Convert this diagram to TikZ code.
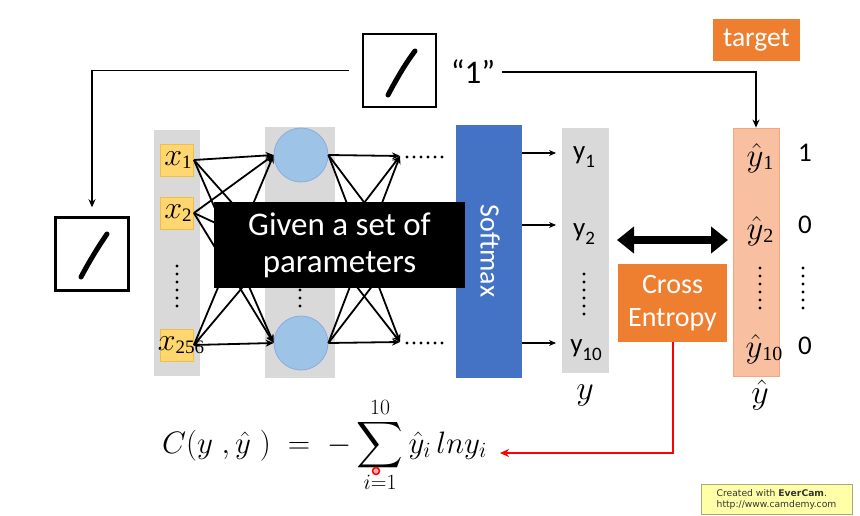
\RequirePackage{fix-cm}
\documentclass[tikz,border=0pt]{standalone}
\usepackage{amsmath}
\usepackage{graphicx}
\usepackage{fontspec}
\setmainfont{Carlito}
\newfontfamily\wmfont{DejaVu Sans}
\newfontfamily\tnr{Liberation Serif}
\usetikzlibrary{arrows.meta}
\definecolor{colgray}{HTML}{D9D9D9}
\definecolor{xfill}{HTML}{FFD670}
\definecolor{xline}{HTML}{F2BE4A}
\definecolor{hfill}{HTML}{9DC3E6}
\definecolor{hline}{HTML}{8FAADC}
\definecolor{smblue}{HTML}{4472C4}
\definecolor{orng}{HTML}{EE7E30}
\definecolor{yhfill}{HTML}{F8BFA0}
\definecolor{yhline}{HTML}{F4A77D}
\definecolor{wmfill}{HTML}{FFFFA8}
\definecolor{wmline}{HTML}{A8A878}
\newcommand{\xlab}[1]{{\fontsize{32}{32}\selectfont$x$}{\tnr\raisebox{-0.3em}{\fontsize{19}{19}\selectfont #1}}}
\newcommand{\yhlab}[1]{{\fontsize{33}{33}\selectfont$\hat{y}$}{\tnr\raisebox{-0.3em}{\fontsize{20}{20}\selectfont #1}}}
\tikzset{
  colbox/.style={fill=colgray,draw=none,inner sep=0pt},
  xbox/.style={fill=xfill,draw=xline,line width=0.8pt,minimum width=33,minimum height=32,inner sep=0pt},
  hcirc/.style={circle,fill=hfill,draw=hline,line width=0.8pt,minimum size=54,inner sep=0pt},
  conn/.style={line width=1.8pt,-{Stealth[length=8pt,width=7pt]}},
  sarrow/.style={line width=1.2pt,-{Stealth[length=7pt,width=6pt]}},
  imgbox/.style={draw=black,line width=2.5pt,fill=white,inner sep=0pt},
  lab/.style={font=\fontsize{27}{28}\selectfont,inner sep=0pt},
  wlab/.style={text=white,font=\fontsize{28}{33}\selectfont,align=center},
}
\begin{document}
\begin{tikzpicture}[x=1pt,y=-1pt]
\useasboundingbox (0,0) rectangle (860,516);
\fill[white] (0,0) rectangle (860,516);

% image boxes
\node[imgbox,minimum width=73,minimum height=73] (topbox) at (399.5,70.5) {};
\draw[line width=5pt,line cap=round] (388,95) .. controls (396,80) and (405,64) .. (415,51);
\node[imgbox,minimum width=73,minimum height=73] (leftbox) at (92,254) {};
\draw[line width=5pt,line cap=round] (81,277) .. controls (89,262) and (98,247) .. (107,234);
\node[font=\fontsize{33}{34}\selectfont,inner sep=3pt] (q1) at (473,72) {“1”};

% target
\node[fill=orng,minimum width=87,minimum height=42,inner sep=0pt,text=white,font=\fontsize{27.5}{28}\selectfont] (target) at (756.5,40) {target};

% columns
\node[colbox,minimum width=46,minimum height=246] (incol) at (177,253) {};
\node[colbox,minimum width=70,minimum height=251] (hidcol) at (300,252.5) {};
\node[colbox,minimum width=47,minimum height=245] (ycol) at (585.5,250.5) {};
\node[fill=yhfill,draw=yhline,line width=0.8pt,minimum width=46,minimum height=248,inner sep=0pt] (yhcol) at (756,252) {};

% softmax
\node[fill=smblue,minimum width=66,minimum height=253,inner sep=0pt] (sm) at (489,251.5) {};
\node[rotate=-90,text=white,font=\fontsize{28}{30}\selectfont] (smtext) at (490,251) {Softmax};

% inputs
\node[xbox] (x1) at (177,160) {};
\node[xbox] (x2) at (177,213) {};
\node[xbox] (x256) at (177,345) {};
\node[inner sep=0pt] (x1t) at (178,160) {\xlab{1}};
\node[inner sep=0pt] (x2t) at (178,213) {\xlab{2}};
\node[inner sep=0pt] (x256t) at (181,345) {\xlab{256}};
\foreach \yy in {266,274,...,306} \fill (177,\yy) circle (1.6);

% hidden
\node[hcirc] (h1) at (301,155) {};
\node[hcirc] (h2) at (301,343) {};
\coordinate (hmw) at (274,250);
\coordinate (hme) at (328,250);
\foreach \yy in {290,298,306} \fill (300,\yy) circle (1.6);

% next layer end points
\coordinate (o1) at (400,156);
\coordinate (om) at (400,250);
\coordinate (o2) at (400,342);

\foreach \s in {x1,x2,x256}{
  \draw[conn] (\s.east) -- (h1.west);
  \draw[conn] (\s.east) -- (hmw);
  \draw[conn] (\s.east) -- (h2.west);
}
\foreach \s in {h1.east,hme,h2.east}{
  \draw[conn] (\s) -- (o1);
  \draw[conn] (\s) -- (om);
  \draw[conn] (\s) -- (o2);
}
\foreach \xx in {407,414,...,442} {\fill (\xx,157) circle (1.6); \fill (\xx,343) circle (1.6);}

% black box
\node[fill=black,minimum width=251,minimum height=86,inner sep=0pt,text=white,font=\fontsize{33}{37}\selectfont,align=center] (given) at (339.5,245) {Given a set of\\parameters};

% softmax -> y
\coordinate (s1) at (522,153); \coordinate (e1) at (556,153);
\coordinate (s2) at (522,225); \coordinate (e2) at (556,225);
\coordinate (s3) at (522,343); \coordinate (e3) at (556,343);
\draw[sarrow] (s1) -- (e1);
\draw[sarrow] (s2) -- (e2);
\draw[sarrow] (s3) -- (e3);

% y labels
\node[lab] (y1) at (584,157) {y\raisebox{-0.3em}{\fontsize{19}{19}\selectfont 1}};
\node[lab] (y2) at (584,234) {y\raisebox{-0.3em}{\fontsize{19}{19}\selectfont 2}};
\node[lab] (y10) at (586,350) {y\raisebox{-0.3em}{\fontsize{19}{19}\selectfont 10}};
\foreach \yy in {274,282,...,314} \fill (584,\yy) circle (1.6);
\node[font=\fontsize{34}{34}\selectfont,inner sep=0pt] (yvec) at (585,395) {$y$};

% yhat labels
\node[inner sep=0pt] (yh1) at (760,158) {\yhlab{1}};
\node[inner sep=0pt] (yh2) at (760,231) {\yhlab{2}};
\node[inner sep=0pt] (yh10) at (764,349) {\yhlab{10}};
\foreach \yy in {268,276,...,308} \fill (760,\yy) circle (1.6);
\node[font=\fontsize{34}{34}\selectfont,inner sep=0pt] (yhvec) at (760,395) {$\hat{y}$};

% target values
\node[lab] (v1) at (805,153) {1};
\node[lab] (v2) at (805,225) {0};
\node[lab] (v3) at (805,346) {0};
\foreach \yy in {268,276,...,308} \fill (803,\yy) circle (1.6);

% cross entropy
\node[fill=orng,minimum width=109,minimum height=78,inner sep=0pt,wlab] (ce) at (672.5,303) {Cross\\Entropy};
\draw[line width=8pt,{Triangle[length=17pt,width=26pt]}-{Triangle[length=17pt,width=26pt]}] (617,240) -- (728,240);

% top connectors
\draw[conn,shorten <=13pt,shorten >=9pt] (topbox.west) -| (leftbox.north);
\draw[conn,shorten <=4pt] (q1.east) -| (yhcol.north);

% formula
\node[anchor=west,inner sep=0pt,font=\fontsize{31}{32}\selectfont] (cost) at (162,445)
  {$\displaystyle C(y\;,\hat{y}\;)\;=\;-\mathop{\vcenter{\hbox{\scalebox{1.3}{$\displaystyle\sum$}}}}\limits_{i=1}^{10}\hat{y}_i\,lny_i$};
\coordinate (redend) at (500,453);
\draw[red,line width=2pt,-{Stealth[length=9pt,width=8pt]}] (ce.south) |- (redend);
\draw[red,line width=1.5pt,fill=red!30] (376,471) circle (3.5);

% watermark
\node[fill=wmfill,draw=wmline,line width=1pt,minimum width=151,minimum height=30,inner sep=2pt,align=left,font=\wmfont\fontsize{9.2}{11}\selectfont,text=black!80] (wm) at (776.5,499) {Created with \textbf{EverCam}.\\http://www.camdemy.com};
\end{tikzpicture}
\end{document}
